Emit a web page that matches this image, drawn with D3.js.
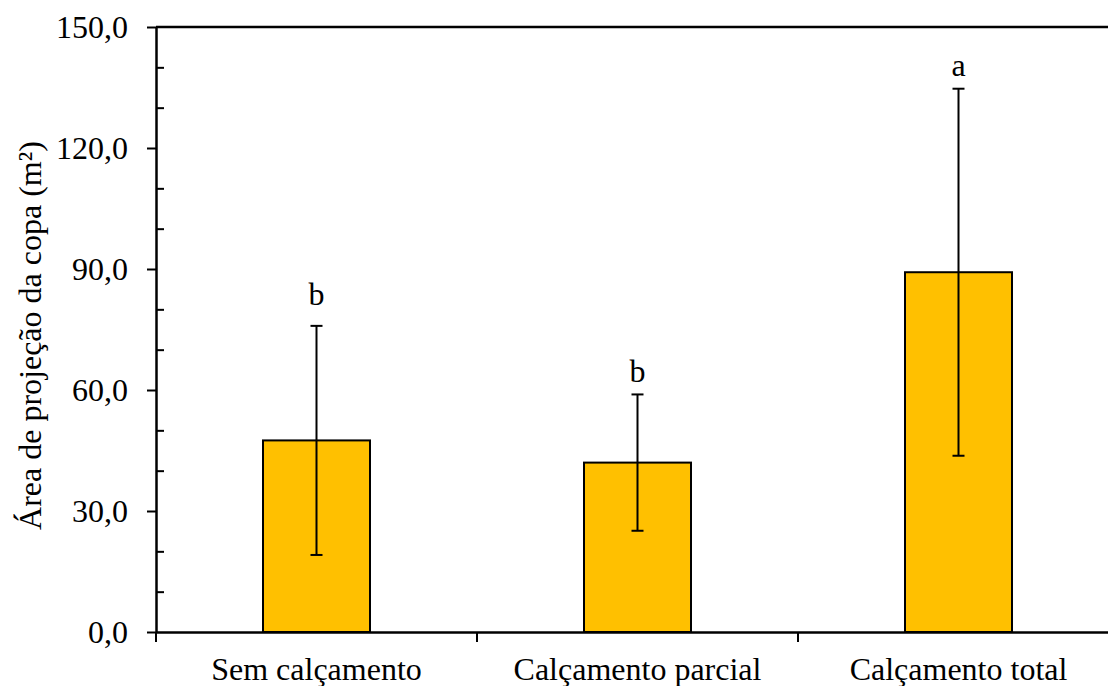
<!DOCTYPE html>
<html>
<head>
<meta charset="utf-8">
<script src="https://cdn.jsdelivr.net/npm/d3@7"></script>
<style>
  body { margin: 0; background: #fff; }
  svg text { font-family: "Liberation Serif", "Times New Roman", "DejaVu Serif", serif; }
</style>
</head>
<body>
<script>
// Data
const CATEGORIES = ['Sem calçamento', 'Calçamento parcial', 'Calçamento total']
const MEANS = [47.5, 42.0, 89.2]
const ERRORS = [28.4, 16.9, 45.5]
const LETTERS = ['b', 'b', 'a']
const LETTER_POS = [81.0, 62.0, 137.9]
const Y_TICKS = [0, 30, 60, 90, 120, 150]
const Y_MINOR = [10, 20, 40, 50, 70, 80, 100, 110, 130, 140]

// Initialization
const width = 1108
const height = 686
const plotLeft = 156
const plotRight = 1119
const plotTop = 27
const plotBottom = 632
const fontSize = 32
const serif = '"Liberation Serif", "Times New Roman", "DejaVu Serif", serif'

const svg = d3.select('body').append('svg')
  .attr('width', width)
  .attr('height', height)
  .attr('font-family', serif)

const x = d3.scaleBand()
  .domain(CATEGORIES)
  .range([plotLeft, plotRight])
  .paddingInner(0)
  .paddingOuter(0)

const y = d3.scaleLinear()
  .domain([0, 150])
  .range([plotBottom, plotTop])

const barWidth = x.bandwidth() / 3
const comma = d3.format('.1f')

// Plot frame (top border)
svg.append('line')
  .attr('x1', plotLeft)
  .attr('x2', plotRight)
  .attr('y1', y(150))
  .attr('y2', y(150))
  .style('stroke', '#000')
  .style('stroke-width', 2.5)

// Bars
svg.append('g')
  .selectAll('rect')
  .data(MEANS)
  .enter()
  .append('rect')
  .attr('x', (_, i) => x(CATEGORIES[i]) + (x.bandwidth() - barWidth) / 2)
  .attr('y', d => y(d))
  .attr('width', barWidth)
  .attr('height', d => y(0) - y(d))
  .attr('fill', '#FFC000')
  .style('stroke', '#000')
  .style('stroke-width', 2)

// Error bars
const errors = svg.append('g')
  .style('stroke', '#000')
  .style('stroke-width', 2)

MEANS.forEach((m, i) => {
  const cx = x(CATEGORIES[i]) + x.bandwidth() / 2
  const hi = y(m + ERRORS[i])
  const lo = y(m - ERRORS[i])
  errors.append('line').attr('x1', cx).attr('x2', cx).attr('y1', hi).attr('y2', lo)
  errors.append('line').attr('x1', cx - 6).attr('x2', cx + 6).attr('y1', hi).attr('y2', hi)
  errors.append('line').attr('x1', cx - 6).attr('x2', cx + 6).attr('y1', lo).attr('y2', lo)
})

// Significance letters
svg.append('g')
  .selectAll('text')
  .data(LETTERS)
  .enter()
  .append('text')
  .attr('x', (_, i) => x(CATEGORIES[i]) + x.bandwidth() / 2)
  .attr('y', (_, i) => y(LETTER_POS[i]))
  .attr('font-family', serif)
  .style('text-anchor', 'middle')
  .style('font-size', `${fontSize}px`)
  .text(d => d)

// Y axis minor ticks (inside)
svg.append('g')
  .attr('transform', `translate(${plotLeft},0)`)
  .call(d3.axisRight(y).tickValues(Y_MINOR).tickSize(8).tickFormat(''))
  .call(g => g.select('.domain').remove())
  .selectAll('line')
  .style('stroke-width', 2)

// Y axis
const yAxis = svg.append('g')
  .attr('transform', `translate(${plotLeft},0)`)
  .call(d3.axisLeft(y).tickValues(Y_TICKS).tickSize(9).tickSizeOuter(0).tickPadding(19)
    .tickFormat(d => comma(d).replace('.', ',')))
  .attr('font-family', serif)
  .attr('font-size', fontSize)
yAxis.select('.domain').style('stroke-width', 2.5)
yAxis.selectAll('line').style('stroke-width', 2)
yAxis.selectAll('text').attr('fill', '#000')

// X axis
const xAxis = svg.append('g')
  .attr('transform', `translate(0,${plotBottom})`)
  .call(d3.axisBottom(x).tickSize(0).tickSizeOuter(0).tickPadding(25))
  .attr('font-family', serif)
  .attr('font-size', fontSize)
xAxis.select('.domain').style('stroke-width', 2.5)
xAxis.selectAll('text').attr('fill', '#000')

// X axis boundary ticks (between categories)
svg.append('g')
  .selectAll('line')
  .data(CATEGORIES)
  .enter()
  .append('line')
  .attr('x1', d => x(d))
  .attr('x2', d => x(d))
  .attr('y1', plotBottom)
  .attr('y2', plotBottom + 10)
  .style('stroke', '#000')
  .style('stroke-width', 2)

// Y axis title
svg.append('text')
  .attr('transform', `translate(41,${(plotTop + plotBottom) / 2 + 6}) rotate(-90)`)
  .attr('font-family', serif)
  .style('text-anchor', 'middle')
  .style('font-size', `${fontSize}px`)
  .text('Área de projeção da copa (m²)')
</script>
</body>
</html>
